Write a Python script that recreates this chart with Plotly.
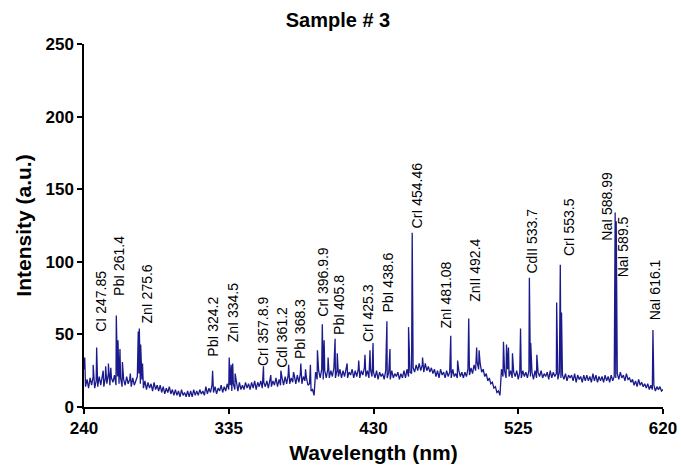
import plotly.graph_objects as go

# ---- data ----
# baseline intensity, one value per nm from 240 to 620
wl_start = 240
baseline = [
    26, 14, 19, 13, 20, 15, 21, 13, 18, 14,
    21, 15, 22, 14, 20, 16, 23, 15, 20, 17,
    22, 15, 21, 16, 20, 14, 19, 15, 21, 16,
    19, 14, 20, 15, 18, 21, 23, 16, 19, 13,
    18, 12, 17, 13, 16, 11, 17, 12, 15, 11,
    15, 10, 14, 9, 13, 10, 14, 9, 12, 8,
    12, 8, 11, 7, 12, 8, 10, 7, 11, 7,
    11, 7, 12, 8, 11, 8, 12, 9, 11, 8,
    14, 9, 13, 10, 15, 10, 14, 9, 13, 11,
    15, 10, 14, 11, 16, 12, 15, 11, 16, 12,
    16, 11, 17, 12, 15, 12, 17, 13, 16, 12,
    17, 13, 18, 12, 17, 14, 18, 13, 17, 14,
    18, 13, 19, 14, 18, 15, 20, 14, 19, 15,
    20, 15, 21, 16, 22, 16, 20, 17, 22, 16,
    22, 17, 23, 16, 21, 18, 20, 15, 16, 11,
    12, 8, 24, 19, 25, 20, 26, 19, 25, 20,
    26, 20, 25, 21, 27, 20, 25, 21, 26, 20,
    25, 21, 27, 20, 24, 22, 26, 20, 25, 21,
    26, 20, 25, 22, 27, 21, 25, 20, 26, 21,
    24, 20, 25, 19, 24, 21, 23, 19, 25, 20,
    24, 19, 25, 20, 23, 21, 24, 19, 23, 20,
    25, 20, 26, 21, 24, 23, 27, 24, 29, 25,
    30, 25, 29, 24, 30, 25, 28, 24, 27, 23,
    26, 21, 25, 20, 26, 22, 24, 20, 25, 21,
    24, 20, 26, 21, 23, 20, 25, 21, 24, 20,
    24, 21, 26, 22, 27, 23, 29, 25, 31, 26,
    30, 24, 26, 21, 23, 18, 20, 16, 17, 13,
    14, 10, 11, 8, 26, 21, 25, 20, 26, 21,
    25, 20, 24, 21, 25, 19, 24, 20, 25, 21,
    24, 20, 25, 21, 24, 19, 25, 20, 24, 21,
    25, 20, 23, 21, 24, 19, 25, 20, 24, 21,
    23, 19, 24, 20, 22, 19, 23, 18, 22, 20,
    22, 18, 23, 17, 22, 19, 21, 17, 22, 18,
    22, 18, 21, 17, 23, 18, 22, 17, 21, 18,
    21, 17, 22, 18, 21, 17, 22, 18, 21, 20,
    23, 19, 24, 20, 22, 18, 23, 19, 20, 17,
    19, 15, 18, 14, 19, 15, 17, 14, 16, 13,
    16, 12, 15, 12, 15, 11, 14, 12, 14, 11,
    12,
]

# emission lines: wavelength (nm) and peak intensity
peak_wl = [
    240.5, 246.0, 248.3, 252.6, 254.2, 256.0, 257.6, 261.2, 262.3, 263.6,
    265.2, 270.4, 275.6, 276.3, 277.2, 278.4, 324.4, 335.3, 336.6, 337.6,
    339.2, 357.8, 362.6, 369.2, 374.3, 377.5, 382.3, 385.4, 388.6, 393.2,
    396.4, 397.6, 400.2, 404.8, 406.2, 412.7, 420.3, 424.4, 427.7, 429.7,
    438.8, 440.8, 453.0, 455.4, 462.2, 480.7, 485.2, 492.5, 497.7, 499.3,
    515.3, 517.3, 518.6, 521.2, 526.5, 532.3, 533.2, 537.2, 550.2, 552.6,
    553.4, 588.6, 589.3, 613.4,
]
peak_int = [
    34, 29, 41, 25, 28, 30, 27, 63, 46, 40,
    31, 23, 52, 54, 43, 30, 25, 34, 29, 30,
    23, 28, 22, 25, 29, 24, 30, 26, 29, 39,
    57, 46, 34, 47, 37, 30, 32, 36, 39, 44,
    59, 40, 55, 120, 34, 49, 32, 61, 41, 39,
    45, 43, 41, 37, 54, 89, 44, 36, 72, 98,
    65, 134, 128, 53,
]

# line labels
label_text = [
    "CI 247.85", "PbI 261.4", "ZnI 275.6", "PbI 324.2", "ZnI 334.5",
    "CrI 357.8.9", "CdI 361.2", "PbI 368.3", "CrI 396.9.9", "PbI 405.8",
    "CrI 425.3", "PbI 438.6", "CrI 454.46", "ZnI 481.08", "ZnII 492.4",
    "CdII 533.7", "CrI 553.5", "NaI 588.99", "NaI 589.5", "NaI 616.1",
]
label_x = [
    251.0, 262.8, 281.2, 325.0, 337.5, 357.2, 370.3, 381.4, 397.2, 407.7,
    426.0, 439.8, 458.8, 477.8, 496.1, 534.1, 558.4, 583.3, 593.8, 614.7,
]
label_y = [
    73, 97, 78, 55, 65, 52, 48, 54, 86, 70,
    65, 86, 146, 77, 94, 114, 124, 138, 110, 81,
]

# ---- build the trace: baseline points merged with line peaks ----
base_x = [wl_start + i for i in range(len(baseline))]
pts = list(zip(base_x, baseline)) + list(zip(peak_wl, peak_int))
pts.sort(key=lambda p: p[0])
xs = [p[0] for p in pts]
ys = [p[1] for p in pts]

FONT = "Arial, Liberation Sans, Helvetica, sans-serif"

fig = go.Figure()
fig.add_trace(go.Scatter(
    x=xs, y=ys, mode="lines",
    line=dict(color="#1a1a8c", width=1.3),
    hoverinfo="x+y", showlegend=False,
))

for t, lx, ly in zip(label_text, label_x, label_y):
    fig.add_annotation(
        x=lx, y=ly, xref="x", yref="y", text=t, showarrow=False,
        textangle=-90, xanchor="center", yanchor="middle",
        font=dict(family=FONT, size=14, color="black"),
    )

fig.update_layout(
    width=681, height=468,
    margin=dict(l=84, r=18, t=44, b=61, autoexpand=False),
    paper_bgcolor="white", plot_bgcolor="white",
    title=dict(text="<b>Sample # 3</b>", x=338 / 681, xref="container", xanchor="center",
               y=1 - 20 / 468, yref="container", yanchor="middle",
               font=dict(family=FONT, size=20, color="black")),
    font=dict(family=FONT, color="black"),
)
fig.update_xaxes(
    range=[240, 620], tickvals=[240, 335, 430, 525, 620],
    ticktext=["<b>240</b>", "<b>335</b>", "<b>430</b>", "<b>525</b>", "<b>620</b>"],
    ticks="outside", ticklen=5, tickwidth=1.5, tickcolor="black",
    showline=True, linecolor="black", linewidth=1.5, showgrid=False, zeroline=False,
    automargin=False,
    tickfont=dict(family=FONT, size=17, color="black"),
    title=dict(text="<b>Wavelength (nm)</b>", standoff=8,
               font=dict(family=FONT, size=21, color="black")),
)
fig.update_yaxes(
    range=[0, 250], tickvals=[0, 50, 100, 150, 200, 250],
    ticktext=["<b>0</b>", "<b>50</b>", "<b>100</b>", "<b>150</b>", "<b>200</b>", "<b>250</b>"],
    ticks="outside", ticklen=5, tickwidth=1.5, tickcolor="black",
    showline=True, linecolor="black", linewidth=1.5, showgrid=False, zeroline=False,
    automargin=False,
    tickfont=dict(family=FONT, size=17, color="black"),
    title=dict(text="<b>Intensity (a.u.)</b>", standoff=8,
               font=dict(family=FONT, size=21, color="black")),
)

fig.write_html(
    "out.html",
    config={"displayModeBar": False},
    post_script="document.body.style.margin='0';document.body.style.padding='0';",
)
